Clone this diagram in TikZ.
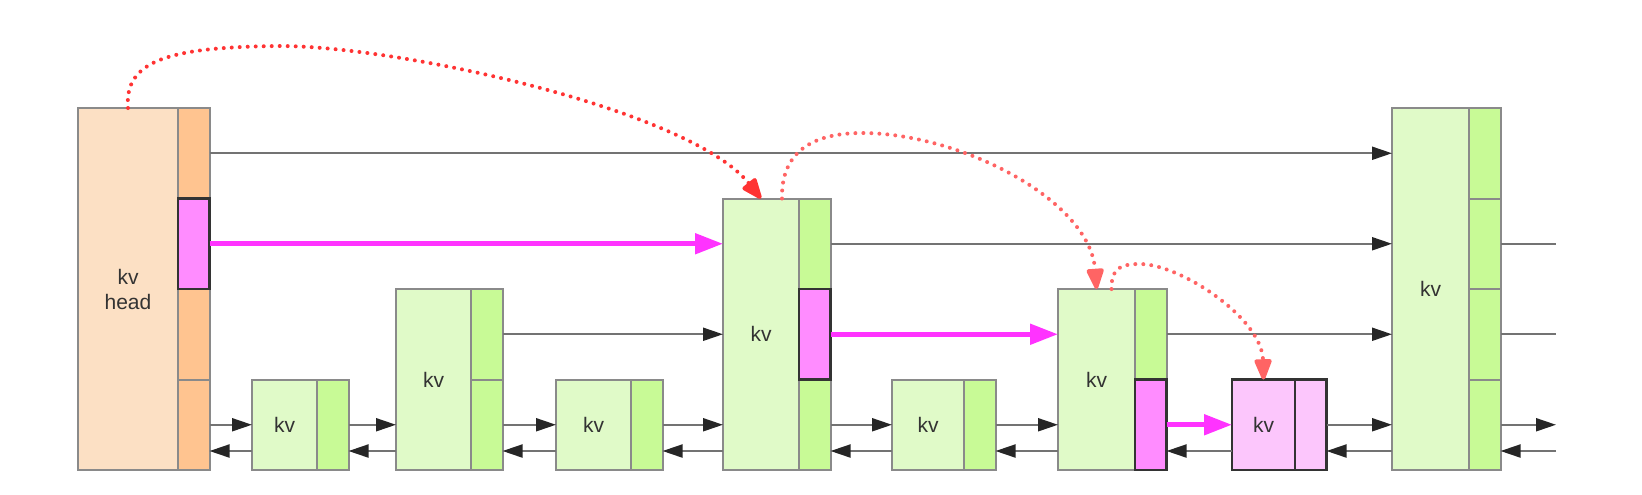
\documentclass[tikz,border=0pt]{standalone}
\usepackage{fontspec}
\setmainfont{Liberation Sans}
\usetikzlibrary{arrows.meta,positioning}

\definecolor{kvgreen}{HTML}{E0FAC8}
\definecolor{ptrgreen}{HTML}{C8FA96}
\definecolor{headmain}{HTML}{FCE0C4}
\definecolor{headptr}{HTML}{FFC490}
\definecolor{magentaptr}{HTML}{FF8CFF}
\definecolor{pinkkv}{HTML}{FCC6FC}
\definecolor{hotline}{HTML}{FF33FF}
\definecolor{edge}{HTML}{8A8A8A}
\definecolor{link}{HTML}{737373}
\definecolor{searchred}{HTML}{FF3333}
\definecolor{searchpale}{HTML}{FF6464}

\tikzset{
  box/.style={draw=edge, line width=1pt, inner sep=0pt, outer sep=0pt,
    text=black!80, font=\fontsize{10.5}{12.5}\selectfont, align=center},
  kv/.style={box, fill=kvgreen, anchor=south west},
  ptr/.style={box, fill=ptrgreen, minimum width=15.75pt, minimum height=45.25pt},
  hotptr/.style={ptr, draw=black!80, line width=1.3pt, fill=magentaptr},
  fwd/.style={draw=link, line width=1pt, -{Triangle[length=10pt,width=6.5pt,color=black!85]}},
  back/.style={fwd},
  hot/.style={draw=hotline, line width=2.5pt, -{Triangle[length=14pt,width=10pt]}},
  search/.style={line width=2pt, dash pattern=on 0pt off 4pt, line cap=round,
    -{Triangle[length=12pt,width=9pt,round=false]}}
}

\begin{document}
\begin{tikzpicture}[x=0.5pt,y=-0.5pt]
\useasboundingbox (0,0) rectangle (1642,494);

% head
\node[kv, fill=headmain, minimum width=50pt, minimum height=181pt] (h) at (78,470) {kv\\head};
\node[ptr, fill=headptr, anchor=north west] (h4) at (h.north east) {};
\node[ptr, fill=headptr, anchor=south west] (h1) at (h.south east) {};
\node[ptr, fill=headptr, above=0pt of h1] (h2) {};
\node[hotptr, above=0pt of h2] (h3) {};

% nodes
\node[kv, minimum width=32.5pt, minimum height=45.25pt] (n1) at (252,470) {kv};
\node[ptr, anchor=south west] (n1s1) at (n1.south east) {};

\node[kv, minimum width=37.5pt, minimum height=90.5pt] (n2) at (396,470) {kv};
\node[ptr, anchor=south west] (n2s1) at (n2.south east) {};
\node[ptr, above=0pt of n2s1] (n2s2) {};

\node[kv, minimum width=37.5pt, minimum height=45.25pt] (n3) at (556,470) {kv};
\node[ptr, anchor=south west] (n3s1) at (n3.south east) {};

\node[kv, minimum width=38pt, minimum height=135.75pt] (n4) at (723,470) {kv};
\node[ptr, anchor=north west] (n4s3) at (n4.north east) {};
\node[ptr, anchor=south west] (n4s1) at (n4.south east) {};
\node[hotptr, below=0pt of n4s3] (n4s2) {};

\node[kv, minimum width=36pt, minimum height=45.25pt] (n5) at (892,470) {kv};
\node[ptr, anchor=south west] (n5s1) at (n5.south east) {};

\node[kv, minimum width=38.5pt, minimum height=90.5pt] (n6) at (1058,470) {kv};
\node[ptr, anchor=north west] (n6s2) at (n6.north east) {};
\node[hotptr, below=0pt of n6s2] (n6s1) {};

\node[kv, fill=pinkkv, draw=black!80, line width=1.3pt, minimum width=31.5pt, minimum height=45.25pt] (n7) at (1232,470) {kv};
\node[ptr, fill=pinkkv, draw=black!80, line width=1.3pt, anchor=south west] (n7s1) at (n7.south east) {};

\node[kv, minimum width=38.5pt, minimum height=181pt] (n8) at (1392,470) {kv};
\node[ptr, anchor=north west] (n8s4) at (n8.north east) {};
\node[ptr, below=0pt of n8s4] (n8s3) {};
\node[ptr, below=0pt of n8s3] (n8s2) {};
\node[ptr, below=0pt of n8s2] (n8s1) {};

\coordinate (nil) at (1556,451);

% level 1
\draw[fwd] (h1.east) -- (h1.east -| n1.west);
\draw[fwd] (n1s1.east) -- (n1s1.east -| n2.west);
\draw[fwd] (n2s1.east) -- (n2s1.east -| n3.west);
\draw[fwd] (n3s1.east) -- (n3s1.east -| n4.west);
\draw[fwd] (n4s1.east) -- (n4s1.east -| n5.west);
\draw[fwd] (n5s1.east) -- (n5s1.east -| n6.west);
\draw[hot] (n6s1.east) -- (n6s1.east -| n7.west);
\draw[fwd] (n7s1.east) -- (n7s1.east -| n8.west);
\draw[fwd] (n8s1.east) -- (n8s1.east -| nil);

\draw[back] ([yshift=9.5pt]n1.south west) -- ([yshift=9.5pt]h1.south east);
\draw[back] ([yshift=9.5pt]n2.south west) -- ([yshift=9.5pt]n1s1.south east);
\draw[back] ([yshift=9.5pt]n3.south west) -- ([yshift=9.5pt]n2s1.south east);
\draw[back] ([yshift=9.5pt]n4.south west) -- ([yshift=9.5pt]n3s1.south east);
\draw[back] ([yshift=9.5pt]n5.south west) -- ([yshift=9.5pt]n4s1.south east);
\draw[back] ([yshift=9.5pt]n6.south west) -- ([yshift=9.5pt]n5s1.south east);
\draw[back] ([yshift=9.5pt]n7.south west) -- ([yshift=9.5pt]n6s1.south east);
\draw[back] ([yshift=9.5pt]n8.south west) -- ([yshift=9.5pt]n7s1.south east);
\draw[back] (nil) -- (nil -| n8s1.east);

% level 2
\draw[fwd] (n2s2.east) -- (n2s2.east -| n4.west);
\draw[hot] (n4s2.east) -- (n4s2.east -| n6.west);
\draw[fwd] (n6s2.east) -- (n6s2.east -| n8.west);
\draw[draw=link, line width=1pt] (n8s2.east) -- (n8s2.east -| nil);

% level 3
\draw[hot] (h3.east) -- (h3.east -| n4.west);
\draw[fwd] (n4s3.east) -- (n4s3.east -| n8.west);
\draw[draw=link, line width=1pt] (n8s3.east) -- (n8s3.east -| nil);

% level 4
\draw[fwd] (h4.east) -- (h4.east -| n8.west);

% search path
\draw[search, searchred] (h.north) .. controls (124,60) and (170,47) .. (280,46)
  .. controls (400,46) and (690,110) .. (n4.north);
\draw[search, searchpale] ([xshift=10.5pt]n4.north) .. controls (781,150) and (815,133) .. (862,133)
  .. controls (960,133) and (1090,200) .. (n6.north);
\draw[search, searchpale] ([xshift=7.5pt]n6.north) .. controls (1111,266) and (1124,264) .. (1140,264)
  .. controls (1180,264) and (1262,318) .. (n7.north);
\end{tikzpicture}
\end{document}
